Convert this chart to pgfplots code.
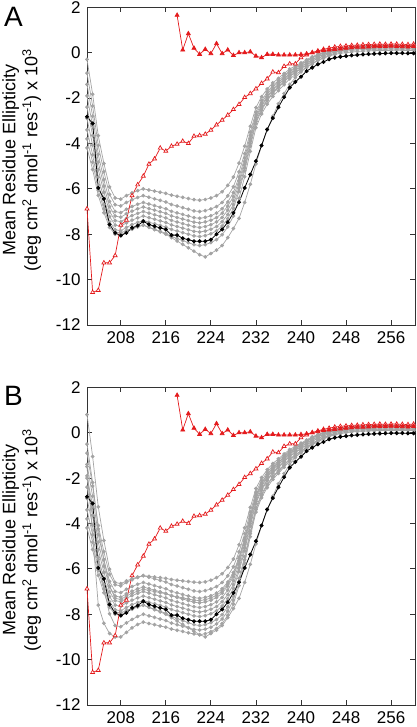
\documentclass[border=0pt]{standalone}
\usepackage{pgfplots}
\usepackage{pgfplotstable}
\pgfplotsset{compat=1.18}
\usepackage{fontspec}
\setmainfont{Liberation Sans}
\definecolor{cdgray}{RGB}{163,163,163}
\definecolor{cdred}{RGB}{228,26,28}

\pgfplotstableread{
x a1 a2 a3 a4 a5 a6 a7 a8 a9
202 -0.30 -0.90 -1.40 -1.90 -2.40 -2.90 -3.40 -3.80 -4.20
203 -1.83 -2.35 -2.80 -3.23 -3.65 -4.08 -4.50 -4.83 -5.15
204 -3.66 -4.09 -4.48 -4.82 -5.15 -5.49 -5.82 -6.06 -6.29
205 -4.88 -5.25 -5.60 -5.88 -6.15 -6.43 -6.70 -6.88 -7.05
206 -5.91 -6.24 -6.55 -6.78 -7.00 -7.22 -7.45 -7.57 -7.70
207 -6.40 -6.70 -7.00 -7.20 -7.40 -7.60 -7.80 -7.90 -8.00
208 -6.45 -6.75 -7.05 -7.25 -7.45 -7.65 -7.85 -7.95 -8.05
209 -6.30 -6.60 -6.90 -7.10 -7.30 -7.50 -7.70 -7.83 -7.90
210 -6.18 -6.48 -6.78 -6.98 -7.18 -7.38 -7.58 -7.74 -7.78
211 -6.08 -6.38 -6.68 -6.88 -7.08 -7.28 -7.48 -7.66 -7.68
212 -6.00 -6.30 -6.60 -6.80 -7.00 -7.20 -7.40 -7.60 -7.60
213 -6.05 -6.37 -6.67 -6.87 -7.07 -7.27 -7.47 -7.69 -7.70
214 -6.10 -6.44 -6.74 -6.94 -7.14 -7.34 -7.54 -7.78 -7.80
215 -6.15 -6.51 -6.81 -7.01 -7.21 -7.41 -7.61 -7.87 -7.90
216 -6.20 -6.58 -6.88 -7.08 -7.28 -7.48 -7.68 -7.96 -8.00
217 -6.28 -6.69 -6.99 -7.19 -7.39 -7.59 -7.79 -8.10 -8.15
218 -6.33 -6.76 -7.06 -7.26 -7.46 -7.66 -7.86 -8.19 -8.30
219 -6.38 -6.83 -7.13 -7.33 -7.53 -7.73 -7.93 -8.28 -8.45
220 -6.43 -6.90 -7.20 -7.40 -7.60 -7.80 -8.00 -8.37 -8.60
221 -6.48 -6.97 -7.27 -7.47 -7.67 -7.87 -8.07 -8.46 -8.75
222 -6.50 -7.00 -7.30 -7.50 -7.70 -7.90 -8.10 -8.50 -8.90
223 -6.47 -6.96 -7.26 -7.46 -7.66 -7.86 -8.06 -8.46 -9.00
224 -6.40 -6.89 -7.19 -7.38 -7.58 -7.78 -7.98 -8.37 -8.85
225 -6.30 -6.78 -7.07 -7.27 -7.46 -7.66 -7.85 -8.24 -8.70
226 -6.13 -6.60 -6.88 -7.07 -7.26 -7.45 -7.64 -8.02 -8.50
227 -5.85 -6.31 -6.58 -6.76 -6.94 -7.13 -7.31 -7.68 -8.15
228 -5.48 -5.91 -6.16 -6.34 -6.51 -6.69 -6.86 -7.20 -7.75
229 -4.87 -5.25 -5.48 -5.64 -5.79 -5.96 -6.11 -6.42 -7.30
230 -4.12 -4.45 -4.64 -4.79 -4.92 -5.07 -5.20 -5.47 -6.60
231 -3.24 -3.50 -3.65 -3.78 -3.88 -4.01 -4.12 -4.35 -5.80
232 -2.42 -2.62 -2.74 -2.85 -2.93 -3.04 -3.12 -3.31 -4.90
233 -1.94 -2.11 -2.21 -2.31 -2.37 -2.47 -2.54 -2.70 -4.10
234 -1.60 -1.74 -1.83 -1.92 -1.98 -2.07 -2.12 -2.27 -3.40
235 -1.33 -1.45 -1.52 -1.61 -1.66 -1.74 -1.79 -1.93 -2.80
236 -1.13 -1.23 -1.30 -1.38 -1.42 -1.50 -1.54 -1.67 -2.25
237 -0.92 -1.01 -1.07 -1.15 -1.18 -1.26 -1.29 -1.41 -1.80
238 -0.72 -0.80 -0.84 -0.91 -0.94 -1.02 -1.05 -1.15 -1.40
239 -0.58 -0.65 -0.69 -0.76 -0.78 -0.85 -0.88 -0.97 -1.10
240 -0.45 -0.50 -0.54 -0.60 -0.62 -0.69 -0.71 -0.80 -0.85
241 -0.31 -0.36 -0.38 -0.45 -0.47 -0.53 -0.55 -0.63 -0.65
242 -0.18 -0.21 -0.23 -0.29 -0.31 -0.37 -0.38 -0.46 -0.50
243 -0.07 -0.10 -0.12 -0.18 -0.19 -0.25 -0.26 -0.33 -0.35
244 0.01 -0.01 -0.02 -0.08 -0.08 -0.14 -0.15 -0.21 -0.25
245 0.10 0.08 0.07 0.02 0.01 -0.04 -0.05 -0.11 -0.15
246 0.15 0.14 0.13 0.08 0.08 0.02 0.02 -0.04 -0.08
247 0.20 0.19 0.19 0.13 0.13 0.08 0.08 0.02 -0.03
248 0.23 0.23 0.22 0.17 0.17 0.12 0.12 0.06 0.00
249 0.26 0.26 0.25 0.20 0.20 0.15 0.15 0.10 0.03
250 0.28 0.28 0.28 0.23 0.23 0.18 0.18 0.12 0.05
251 0.29 0.29 0.29 0.24 0.24 0.19 0.19 0.13 0.07
252 0.29 0.29 0.29 0.24 0.24 0.19 0.19 0.14 0.08
253 0.30 0.30 0.30 0.25 0.25 0.20 0.20 0.15 0.09
254 0.31 0.30 0.30 0.25 0.25 0.20 0.20 0.15 0.10
255 0.30 0.31 0.30 0.26 0.25 0.21 0.20 0.15 0.10
256 0.32 0.30 0.31 0.25 0.26 0.20 0.21 0.16 0.10
257 0.31 0.31 0.30 0.25 0.25 0.20 0.20 0.15 0.11
258 0.30 0.30 0.30 0.26 0.25 0.21 0.20 0.15 0.10
259 0.31 0.31 0.31 0.25 0.26 0.20 0.21 0.16 0.10
260 0.32 0.30 0.30 0.25 0.25 0.20 0.20 0.15 0.10
}\grayA

\pgfplotstableread{
x b1 e1 e2 e3
202 0.80 -1.50 -2.00 -0.50
203 -1.05 -4.50 -3.63 -2.20
204 -3.27 -7.60 -5.58 -4.24
205 -4.75 -8.40 -6.88 -5.60
206 -6.01 -8.85 -7.98 -6.76
207 -6.60 -9.00 -8.50 -7.30
208 -6.65 -9.00 -8.55 -7.35
209 -6.53 -8.80 -8.38 -7.20
210 -6.44 -8.60 -8.23 -7.08
211 -6.36 -8.45 -8.10 -6.98
212 -6.30 -8.35 -8.00 -6.90
213 -6.33 -8.41 -8.07 -6.95
214 -6.36 -8.46 -8.14 -7.00
215 -6.39 -8.52 -8.21 -7.05
216 -6.42 -8.57 -8.28 -7.10
217 -6.47 -8.65 -8.39 -7.18
218 -6.50 -8.71 -8.46 -7.23
219 -6.53 -8.76 -8.53 -7.28
220 -6.56 -8.82 -8.60 -7.33
221 -6.59 -8.87 -8.67 -7.38
222 -6.60 -8.90 -8.70 -7.40
223 -6.57 -8.86 -8.66 -7.36
224 -6.50 -8.77 -8.57 -7.28
225 -6.39 -8.63 -8.43 -7.17
226 -6.22 -8.41 -8.21 -6.98
227 -5.94 -8.05 -7.86 -6.67
228 -5.57 -7.55 -7.37 -6.25
229 -4.94 -6.74 -6.58 -5.55
230 -4.19 -5.75 -5.60 -4.71
231 -3.29 -4.58 -4.45 -3.70
232 -2.46 -3.50 -3.39 -2.78
233 -1.98 -2.87 -2.77 -2.24
234 -1.63 -2.42 -2.33 -1.86
235 -1.36 -2.06 -1.97 -1.55
236 -1.15 -1.79 -1.71 -1.32
237 -0.94 -1.52 -1.44 -1.09
238 -0.74 -1.25 -1.18 -0.86
239 -0.60 -1.07 -1.00 -0.70
240 -0.46 -0.89 -0.82 -0.55
241 -0.32 -0.71 -0.65 -0.39
242 -0.18 -0.53 -0.47 -0.24
243 -0.08 -0.40 -0.34 -0.12
244 0.01 -0.28 -0.22 -0.02
245 0.09 -0.17 -0.12 0.07
246 0.15 -0.10 -0.04 0.13
247 0.20 -0.04 0.02 0.18
248 0.23 0.01 0.06 0.22
249 0.26 0.05 0.10 0.25
250 0.28 0.07 0.12 0.28
251 0.28 0.07 0.12 0.28
252 0.29 0.08 0.13 0.29
253 0.30 0.09 0.14 0.30
254 0.30 0.10 0.15 0.30
255 0.31 0.10 0.15 0.31
256 0.30 0.10 0.15 0.30
257 0.31 0.10 0.15 0.30
258 0.30 0.10 0.15 0.31
259 0.31 0.10 0.15 0.30
260 0.30 0.10 0.15 0.30
}\grayB

\pgfplotstableread{
x y
202 -2.82
203 -3.12
204 -5.96
205 -6.44
206 -7.57
207 -7.94
208 -8.06
209 -7.94
210 -7.72
211 -7.62
212 -7.43
213 -7.57
214 -7.65
215 -7.72
216 -7.79
217 -8.04
218 -8.04
219 -8.18
220 -8.24
221 -8.31
222 -8.31
223 -8.31
224 -8.24
225 -8.00
226 -7.79
227 -7.47
228 -7.06
229 -6.59
230 -5.96
231 -5.37
232 -4.78
233 -4.09
234 -3.38
235 -2.88
236 -2.40
237 -1.96
238 -1.54
239 -1.29
240 -1.06
241 -0.81
242 -0.66
243 -0.51
244 -0.41
245 -0.29
246 -0.22
247 -0.18
248 -0.15
249 -0.12
250 -0.10
251 -0.08
252 -0.06
253 -0.05
254 -0.04
255 -0.03
256 -0.02
257 -0.02
258 -0.02
259 -0.03
260 -0.03
}\blackT

\pgfplotstableread{
x y
202 -6.88
203 -10.56
204 -10.47
205 -9.26
206 -9.26
207 -8.94
208 -7.60
209 -7.38
210 -6.30
211 -5.82
212 -5.44
213 -4.91
214 -4.68
215 -4.20
216 -4.34
217 -4.12
218 -4.03
219 -3.90
220 -4.00
221 -3.68
222 -3.65
223 -3.59
224 -3.41
225 -3.18
226 -2.97
227 -2.75
228 -2.50
229 -2.28
230 -1.97
231 -1.80
232 -1.59
233 -1.35
234 -1.15
235 -0.85
236 -0.88
237 -0.60
238 -0.49
239 -0.49
240 -0.22
241 -0.10
242 0.00
243 0.08
244 0.15
245 0.20
246 0.25
247 0.28
248 0.30
249 0.32
250 0.33
251 0.35
252 0.36
253 0.37
254 0.38
255 0.37
256 0.38
257 0.38
258 0.37
259 0.36
260 0.38
}\redOpen

\pgfplotstableread{
x y
218 1.65
219 0.12
220 0.84
221 0.20
222 -0.07
223 0.15
224 -0.04
225 0.40
226 -0.04
227 0.12
228 -0.12
229 0.00
230 0.00
231 0.04
232 -0.15
233 -0.22
234 -0.07
235 -0.07
236 -0.10
237 -0.10
238 -0.10
239 -0.10
240 -0.08
241 -0.05
242 0.00
243 0.05
244 0.10
245 0.12
246 0.15
247 0.17
248 0.20
249 0.22
250 0.24
251 0.25
252 0.26
253 0.27
254 0.28
255 0.28
256 0.29
257 0.28
258 0.27
259 0.26
260 0.28
}\redFilled

\pgfplotsset{
  cdaxis/.style={
    scale only axis, width=328pt, height=317.7pt,
    xmin=202, xmax=260.25, ymin=-12, ymax=2,
    xtick={208,216,224,232,240,248,256},
    xticklabels={208,216,224,232,240,248,256},
    ytick={-12,-10,-8,-6,-4,-2,0,2},
    yticklabels={-12,-10,-8,-6,-4,-2,0,2},
    tick align=inside, major tick length=5pt,
    axis line style={draw=black!80, line width=0.8pt},
    every tick/.style={draw=black!80, line width=0.8pt},
    ticklabel style={font=\fontsize{17}{17}\selectfont},
    xticklabel style={yshift=-3pt},
    yticklabel style={xshift=-3pt},
    clip=false,
    ylabel={Mean Residue Ellipticity\\(deg cm\textsuperscript{2} dmol\textsuperscript{-1} res\textsuperscript{-1}) x 10\textsuperscript{3}},
    ylabel style={align=center, font=\fontsize{18}{22}\selectfont,
      at={(axis description cs:-0.199,0.52)}, anchor=center},
  },
  gline/.style={color=cdgray, line width=0.7pt, mark=*, mark size=1.5pt},
  bline/.style={color=black, line width=0.8pt, mark=*, mark size=1.6pt},
  ropen/.style={color=cdred, line width=0.7pt, mark=triangle*, mark size=2.3pt, mark options={fill=white}},
  rfill/.style={color=cdred, line width=0.7pt, mark=triangle*, mark size=2.3pt, mark options={fill=cdred}},
}

\begin{document}
\begin{tikzpicture}[x=1pt,y=1pt]
\begin{axis}[cdaxis, at={(87pt,402pt)}, anchor=south west]
  \pgfplotsinvokeforeach{a1,a2,a3,a4,a5,a6,a7,a8,a9}{
    \addplot[gline] table[x=x,y=#1]{\grayA};
  }
  \addplot[bline] table[x=x,y=y]{\blackT};
  \addplot[ropen] table[x=x,y=y]{\redOpen};
  \addplot[rfill] table[x=x,y=y]{\redFilled};
\end{axis}
\begin{axis}[cdaxis, at={(87pt,22pt)}, anchor=south west]
  \pgfplotsinvokeforeach{a2,a3,a4,a5,a6,a7,a8,a9}{
    \addplot[gline] table[x=x,y=#1]{\grayA};
  }
  \pgfplotsinvokeforeach{b1,e1,e2,e3}{
    \addplot[gline] table[x=x,y=#1]{\grayB};
  }
  \addplot[bline] table[x=x,y=y]{\blackT};
  \addplot[ropen] table[x=x,y=y]{\redOpen};
  \addplot[rfill] table[x=x,y=y]{\redFilled};
\end{axis}
\node[font=\fontsize{28}{28}\selectfont] at (13.5pt,710pt) {A};
\node[font=\fontsize{28}{28}\selectfont] at (13.5pt,331pt) {B};
\pgfresetboundingbox
\path[use as bounding box] (0,0) rectangle (416pt,727pt);
\end{tikzpicture}
\end{document}
